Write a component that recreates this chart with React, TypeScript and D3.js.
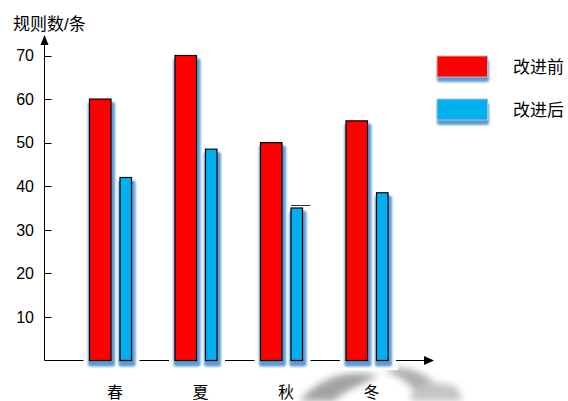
import React from "react";
import * as d3 from "d3";

const seasons = ["春", "夏", "秋", "冬"];
const before = [60, 70, 50, 55];
const after = [42, 48.5, 35, 38.5];
const yTicks = [10, 20, 30, 40, 50, 60, 70];
const seriesNames = ["改进前", "改进后"];
const seriesColors = ["#ff0000", "#00b0f0"];

const W = 568;
const H = 401;

export default function App() {
  const y = d3.scaleLinear().domain([0, 70]).range([360.5, 55.5]);
  const x = d3.scaleBand().domain(seasons).range([67.5, 409.5]);
  const axisX = 44.5;
  const baseY = 360.5;
  const font = "'Liberation Sans', 'Noto Sans CJK SC', sans-serif";

  const bars: { x: number; w: number; v: number; c: string }[] = [];
  seasons.forEach((s, i) => {
    const b = x(s)!;
    bars.push({ x: b + 22, w: 21.5, v: before[i], c: seriesColors[0] });
    bars.push({ x: b + 52.5, w: 11.5, v: after[i], c: seriesColors[1] });
  });

  return (
    <svg width={W} height={H} style={{ position: "absolute", left: 0, top: 0, background: "#fff" }}>
      <defs>
        <filter id="sh" x="-50%" y="-10%" width="200%" height="120%">
          <feGaussianBlur stdDeviation="1.3" />
        </filter>
        <filter id="wm" x="-50%" y="-50%" width="200%" height="200%">
          <feGaussianBlur stdDeviation="3.5" />
        </filter>
      </defs>
      <rect width={W} height={H} fill="#fff" />
      {/* faint watermark */}
      <g filter="url(#wm)" opacity={0.8}>
        <path d="M300,401 C318,378 350,368 378,376 C360,385 342,392 334,401 Z" fill="#8a8a8a" />
        <path d="M384,370 C405,364 428,372 442,392 L446,401 L420,401 C415,385 400,377 384,370 Z" fill="#999" />
        <path d="M410,396 C418,382 434,378 458,388 L462,401 L412,401 Z" fill="#b5b5b5" />
      </g>
      <rect x={0} y={0} width={398} height={370} fill="#fff" />

      {/* y axis */}
      <line x1={axisX} x2={axisX} y1={44} y2={baseY} stroke="#000" strokeWidth={1} />
      <path d={`M${axisX - 4},${45} L${axisX + 4},${45} L${axisX},${35} Z`} fill="#000" />
      {yTicks.map((t) => (
        <g key={t}>
          <line x1={axisX} x2={axisX + 7} y1={Math.round(y(t)) + 0.5} y2={Math.round(y(t)) + 0.5} stroke="#000" />
          <text x={34} y={y(t)} dy="0.36em" textAnchor="end" fontSize={16} fontFamily={font} fill="#000">
            {t}
          </text>
        </g>
      ))}
      <text x={13} y={30} fontSize={17} fontFamily={font} fill="#000">规则数/条</text>

      {/* x axis */}
      <line x1={axisX} x2={425} y1={baseY} y2={baseY} stroke="#000" strokeWidth={1} />
      <path d={`M${424},${baseY - 4.5} L${424},${baseY + 4.5} L${434},${baseY} Z`} fill="#000" />

      {/* halos */}
      {bars.map((b, i) => (
        <rect key={"h" + i} x={b.x - 6} y={y(b.v) - 3} width={b.w + 14} height={baseY - y(b.v) + 12} fill="#fff" />
      ))}
      {/* shadows */}
      {bars.map((b, i) => (
        <rect
          key={"s" + i}
          x={b.x - 1.5}
          y={y(b.v) + 3}
          width={b.w + 5.5}
          height={baseY - y(b.v) + 3}
          rx={2}
          fill="#5b9bd5"
          filter="url(#sh)"
        />
      ))}
      {bars.map((b, i) => (
        <rect
          key={"b" + i}
          x={b.x}
          y={y(b.v)}
          width={b.w}
          height={baseY - y(b.v)}
          fill={b.c}
          stroke="#000"
          strokeWidth={1.2}
        />
      ))}
      {/* stray line above 秋 blue */}
      <line x1={bars[5].x} x2={bars[5].x + 19.5} y1={205.5} y2={205.5} stroke="#000" strokeWidth={0.8} />

      {seasons.map((s) => (
        <text key={s} x={x(s)! + 47.5} y={392} dy="0.36em" textAnchor="middle" fontSize={16} fontFamily={font} fill="#000">
          {s}
        </text>
      ))}

      {/* legend */}
      {seriesNames.map((n, i) => (
        <g key={n}>
          <rect x={437} y={60 + i * 43} width={52} height={22} rx={2} fill="#5b9bd5" filter="url(#sh)" />
          <rect x={437} y={56 + i * 43} width={50.5} height={21} fill={seriesColors[i]} stroke="#bbb" strokeWidth={1} />
          <text x={513} y={66.5 + i * 43.5} dy="0.36em" fontSize={17} fontFamily={font} fill="#000">
            {n}
          </text>
        </g>
      ))}
    </svg>
  );
}
